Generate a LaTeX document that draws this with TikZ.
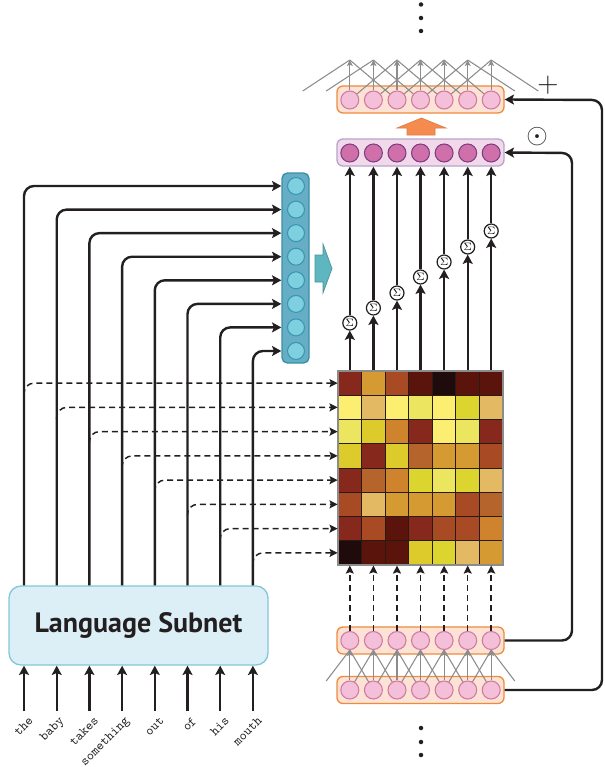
\documentclass[tikz,border=0pt]{standalone}
\usepackage{fontspec}
\newfontfamily\lsfont{PT Sans}
\usetikzlibrary{arrows.meta,calc}
\definecolor{ink}{HTML}{231F20}
\definecolor{lsfill}{HTML}{DDEFF6}
\definecolor{lsdraw}{HTML}{82C7D8}
\definecolor{vecfill}{HTML}{66AEC6}
\definecolor{vecdraw}{HTML}{3B8EA8}
\definecolor{bcfill}{HTML}{7ED0E0}
\definecolor{bcdraw}{HTML}{3A95AE}
\definecolor{barrow}{HTML}{5DB6C0}
\definecolor{purfill}{HTML}{F2D9EA}
\definecolor{purdraw}{HTML}{B9A2CF}
\definecolor{pcfill}{HTML}{D070AA}
\definecolor{pcdraw}{HTML}{7D3E84}
\definecolor{orfill}{HTML}{FDE3D6}
\definecolor{ordraw}{HTML}{F08A3C}
\definecolor{ocfill}{HTML}{F3BFD9}
\definecolor{ocdraw}{HTML}{D3789F}
\definecolor{oarrow}{HTML}{F68B4F}
\definecolor{greyl}{HTML}{8C8C8C}
\definecolor{cellb}{HTML}{2A1A14}
\definecolor{hA}{HTML}{1F0B0B}
\definecolor{hB}{HTML}{5A140C}
\definecolor{hC}{HTML}{86281C}
\definecolor{hD}{HTML}{A84B24}
\definecolor{hE}{HTML}{B5652B}
\definecolor{hF}{HTML}{CE832C}
\definecolor{hG}{HTML}{D59A31}
\definecolor{hH}{HTML}{E3B964}
\definecolor{hI}{HTML}{DCCB2A}
\definecolor{hJ}{HTML}{DCD42F}
\definecolor{hK}{HTML}{ECE55F}
\definecolor{hL}{HTML}{FBEE70}
\begin{document}
\begin{tikzpicture}[x=0.75pt,y=-0.75pt,
  arr/.style={draw=ink, line width=1.8pt, -{Stealth[length=7pt,width=7.5pt,inset=1.5pt]}},
  dasharr/.style={draw=ink, line width=1.1pt, dash pattern=on 4.5pt off 3pt, -{Stealth[length=6pt,width=6pt,inset=1pt]}},
  garr/.style={draw=greyl, line width=0.8pt, -{Stealth[length=4.5pt,width=4.5pt,inset=1pt]}},
  gl/.style={draw=greyl, line width=0.8pt},
  lsbox/.style={draw=lsdraw, fill=lsfill, line width=1pt, rounded corners=9pt, minimum width=259*0.75pt, minimum height=79*0.75pt, inner sep=0pt, font=\lsfont\bfseries\fontsize{21}{24}\selectfont, text=ink},
  vecbox/.style={draw=vecdraw, fill=vecfill, line width=1pt, rounded corners=4pt, minimum width=27*0.75pt, minimum height=190*0.75pt, inner sep=0pt},
  bc/.style={circle, draw=bcdraw, fill=bcfill, line width=0.8pt, minimum size=17*0.75pt, inner sep=0pt},
  layerbox/.style={rounded corners=4.5pt, line width=1pt, minimum width=167*0.75pt, minimum height=27*0.75pt, inner sep=0pt},
  purbox/.style={layerbox, draw=purdraw, fill=purfill},
  orbox/.style={layerbox, draw=ordraw, fill=orfill},
  pc/.style={circle, draw=pcdraw, fill=pcfill, line width=0.8pt, minimum size=18*0.75pt, inner sep=0pt},
  oc/.style={circle, draw=ocdraw, fill=ocfill, line width=0.8pt, minimum size=18*0.75pt, inner sep=0pt},
  cell/.style={draw=cellb, line width=0.6pt, minimum width=23.571*0.75pt, minimum height=24.25*0.75pt, inner sep=0pt},
  sig/.style={circle, draw=ink, fill=white, line width=0.9pt, minimum size=14*0.75pt, inner sep=0pt, font=\fontsize{8.5}{8.5}\selectfont},
  word/.style={text=ink, inner sep=0pt, anchor=north east},
  dot/.style={circle, fill=ink, minimum size=4.5*0.75pt, inner sep=0pt}
]
\useasboundingbox (0,0) rectangle (604,767);

% Language subnet
\node[lsbox] (ls) at (138.5,625.5) {Language Subnet};

% blue vector
\node[vecbox] (vec) at (295.5,268) {};

% heatmap
\foreach \r/\cols in {1/{hC,hG,hD,hB,hA,hB,hB},2/{hL,hH,hL,hK,hL,hJ,hH},3/{hK,hI,hF,hC,hL,hK,hC},4/{hI,hC,hI,hE,hG,hG,hD},5/{hC,hE,hF,hJ,hK,hJ,hH},6/{hD,hH,hG,hG,hG,hD,hE},7/{hC,hD,hB,hC,hD,hD,hF},8/{hA,hB,hB,hI,hJ,hH,hG}}{
  \foreach \c [count=\j] in \cols {
    \node[cell, fill=\c] (h\r-\j) at ({338+23.571*(\j-0.5)},{371+24.25*(\r-0.5)}) {};
  }
}
\node[draw=greyl, line width=0.8pt, minimum width=165*0.75pt, minimum height=194*0.75pt, inner sep=0pt] (hm) at (420.5,468) {};

% left columns
\foreach \i/\x/\y/\w in {1/24.0/186.0/the,2/56.7/209.6/baby,3/89.4/233.1/takes,4/122.1/256.7/something,5/154.8/280.3/out,6/187.5/303.9/of,7/220.2/327.4/his,8/252.9/351.0/mouth}{
  \coordinate (t\i) at (\x,711);
  \node[bc] (b\i) at (296,\y) {};
  \node[word] (w\i) at ($(t\i)+(10,5)$) {\rotatebox{45}{\ttfamily\fontsize{10}{11}\selectfont \w}};
  \draw[arr] (t\i) -- (t\i |- ls.south);
  \draw[dasharr, rounded corners=7.5pt] ($(t\i |- h\i-1.west)+(0,12)$) |- (h\i-1.west);
  \draw[arr, rounded corners=7.5pt] (t\i |- ls.north) |- (b\i -| vec.west);
}

% blue block arrow
\filldraw[fill=barrow, draw=barrow!80!black, line width=0.5pt] (315,255) -- (323,255) -- (323,244) -- (332,268.5) -- (323,293) -- (323,282) -- (315,282) -- cycle;

% layers
\node[purbox] (pur) at (420.5,152.5) {};
\node[orbox] (top) at (420.5,99.5) {};
\node[orbox] (bu) at (420.5,640.5) {};
\node[orbox] (bl) at (420.5,690) {};

\coordinate (o-1) at (302.7,91);
\coordinate (o0) at (326.2,91);
\coordinate (o8) at (514.8,91);
\coordinate (o9) at (538.3,91);
\coordinate (l0) at (326.2,681);
\coordinate (l8) at (514.8,681);

\foreach \j/\cx/\sy in {1/349.8/323,2/373.4/308,3/397.0/293,4/420.5/277,5/444.1/262,6/467.7/247,7/491.2/231}{
  \node[pc] (p\j) at (\cx,153) {};
  \node[oc] (o\j) at (\cx,100) {};
  \node[oc] (u\j) at (\cx,640.5) {};
  \node[oc] (l\j) at (\cx,690) {};
  \coordinate (g\j) at (\cx,60);
  \node[sig] (s\j) at (\cx,\sy) {$\Sigma$};
  \draw[arr] (s\j |- hm.north) -- (s\j);
  \draw[arr] (s\j) -- (s\j |- pur.south);
  \draw[dasharr] (u\j) -- (u\j |- hm.south);
}

% grey connections
\foreach \j in {1,...,7}{
  \draw[garr] (o\j) -- (g\j);
  \draw[garr] (l\j) -- (u\j);
  \foreach \d in {-2,2}{
    \pgfmathtruncatemacro\k{\j+\d}
    \draw[gl] (o\k) -- (g\j);
  }
  \foreach \d in {-1,1}{
    \pgfmathtruncatemacro\k{\j+\d}
    \draw[gl] (l\k) -- (u\j.south);
  }
}

% orange block arrow
\filldraw[fill=oarrow, draw=oarrow!90!black, line width=0.5pt] (407,135) -- (407,128) -- (397,128) -- (421.5,118) -- (446,128) -- (435,128) -- (435,135) -- cycle;

% right connectors
\coordinate (rc1) at (572,153);
\coordinate (rc2) at (602,100);
\draw[arr, rounded corners=7.5pt] (bu.east) -| (rc1) -- (pur.east);
\draw[arr, rounded corners=7.5pt] (bl.east) -| (rc2) -- (top.east);

\node[text=ink, inner sep=0pt] (plus) at (548,85) {\fontsize{22}{22}\selectfont +};
\node[text=ink, inner sep=0pt] (odot) at (537,137) {\fontsize{21}{21}\selectfont $\odot$};

% dots
\node[dot] (d1) at (421,4.5) {};
\node[dot] (d2) at (421,18) {};
\node[dot] (d3) at (421,31) {};
\node[dot] (d4) at (421,728) {};
\node[dot] (d5) at (421,742) {};
\node[dot] (d6) at (421,755) {};
\end{tikzpicture}
\end{document}
